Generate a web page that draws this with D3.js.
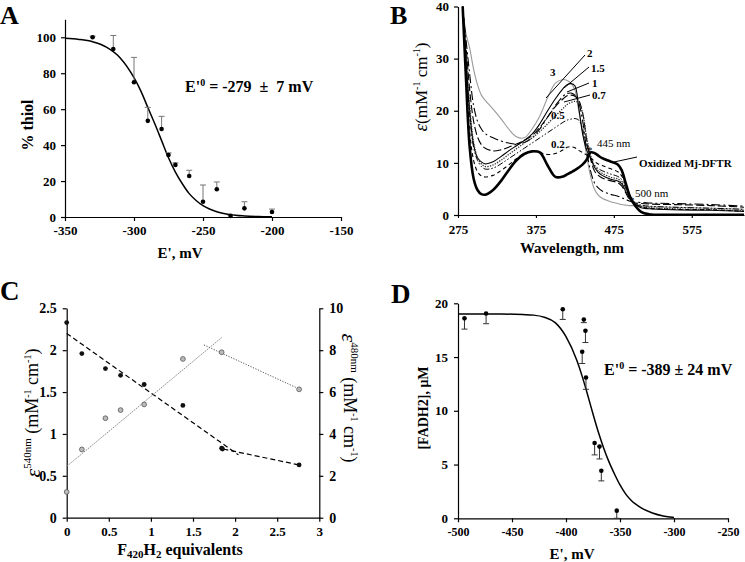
<!DOCTYPE html>
<html><head><meta charset="utf-8">
<script src="https://cdn.jsdelivr.net/npm/d3@7"></script>
<style>body{margin:0;background:#fff} text{font-family:"Liberation Serif","Times New Roman",serif;fill:#000}</style>
</head><body><svg id="c" width="745" height="562"></svg>
<script>
// ---------- Panel A ----------
const aE = [-330,-315,-300,-290,-280,-275,-270,-260,-250,-240,-230,-220,-200];
const aThiol = [100,93.5,75,53.5,49,34.5,29,22.8,8.5,15.4,0.6,4.8,2.8];
const aErr = [0.6,7.5,13.8,7.5,7,1.2,1.1,3.2,9.3,4.1,0.3,3.7,1.6];
const aFitE = [-350,-340,-330,-320,-310,-300,-295,-290,-285,-280,-275,-270,-265,-260,-255,-250,-240,-230,-220,-210,-200];
const aFitY = [99.4,98.8,97.5,94.5,88.5,77.5,70,61,52,42.5,33,25,18.5,13,9.2,6.3,2.9,1.3,0.6,0.25,0.1];
const aXTicks = [-350,-300,-250,-200,-150];
const aYTicks = [0,20,40,60,80,100];

// ---------- Panel B ----------
const bWl = [281,285,290,295,300,305,310,320,330,340,350,360,370,380,390,400,410,415,420,425,430,435,440,445,450,455,460,470,480,485,490,495,500,510,520,550,600,642];
const bOx  = [40,27,13,7,4.8,4.0,3.9,4.8,6.5,8.6,10.5,11.7,12.2,12.0,9.5,7.3,7.4,7.8,8.2,8.6,9.1,9.7,10.6,12.0,11.9,11.4,10.9,10.3,9.7,8.6,6.2,3.8,2.3,0.6,0.15,0.05,0.05,0.05];
const b02  = [40,28,16,10.5,8.3,7.5,7.3,7.6,8.5,9.6,10.8,11.8,12.2,12.0,11.6,11.8,12.5,13.0,13.1,12.9,12.4,12.0,11.5,11.0,10.3,9.8,9.5,8.9,8.3,7.5,5.8,3.9,2.6,1.6,1.3,1.1,1.0,0.7];
const b05  = [40,30,19,13,10.5,9.3,8.8,9.0,9.8,10.8,11.8,12.8,13.8,14.8,15.8,16.8,17.8,18.2,18.4,18.5,18.2,16.5,13.5,11.0,9.6,8.9,8.5,7.9,7.4,6.8,5.2,3.5,2.5,1.9,1.7,1.5,1.3,1.1];
const b07  = [40,31,21,14,11,9.8,9.3,9.6,10.5,11.6,12.7,13.8,14.8,16.0,17.5,19.0,20.5,21.2,21.6,21.8,21.5,19.5,15.0,11.5,9.5,8.5,8.0,7.3,6.9,6.3,4.8,3.2,2.4,1.6,1.4,1.2,1.0,0.8];
const b1   = [40,33,24,18,15,13.5,12.8,12.3,12.5,13.0,13.6,14.3,15.2,16.8,18.8,20.8,22.3,22.9,23.0,22.8,22.0,19.5,14.5,10.8,8.5,7.6,7.1,6.6,6.2,5.6,4.3,3.0,2.4,2.2,2.1,2.0,1.8,1.5];
const b15  = [40,31,20,13.5,11,10.2,9.8,10.2,11.2,12.3,13.3,14.3,15.5,17.5,20.0,22.3,24.3,25.0,25.2,24.8,20.5,15.5,12.5,11.0,9.2,8.2,7.6,6.9,6.5,6.0,4.6,3.2,2.4,1.4,1.2,1.0,0.9,0.7];
const b2   = [40,34,27,21,18,16.5,15.6,14.8,14.2,13.8,13.6,13.9,14.8,16.5,18.8,21.0,22.8,23.3,23.4,23.0,21.5,18.0,12.5,8.5,6.2,5.2,4.6,4.0,3.6,3.3,3.0,2.7,2.5,2.4,2.3,2.2,2.0,1.7];
const b3   = [40,35,32,28,25,23,22,20.3,18.5,16.5,15.0,14.8,16.5,19.0,22.5,25.3,26.0,25.8,25.3,24.0,20.0,16.0,11.5,7.5,5.0,3.8,3.2,2.6,2.2,2.0,1.9,1.8,1.8,1.7,1.6,1.5,1.3,1.1];
const bXTicks = [275,375,475,575];
const bYTicks = [0,10,20,30,40];

// ---------- Panel C ----------
const cEq540 = [0,0.18,0.46,0.64,0.92,1.38,1.84,1.85,2.76];
const cE540  = [2.33,1.96,1.78,1.70,1.59,1.34,0.83,0.82,0.63];
const cEq480 = [0,0.18,0.46,0.64,0.92,1.38,1.84,2.76];
const cE480  = [1.23,3.26,4.75,5.14,5.41,7.58,7.9,6.13];
const cFit540a = [[0,2.2],[2.04,0.75]];
const cFit540b = [[1.86,0.82],[2.76,0.63]];
const cFit480a = [[0,2.45],[1.84,8.6]];
const cFit480b = [[1.63,8.25],[2.76,6.15]];
const cXTicks = [0,0.5,1,1.5,2,2.5,3];
const cYTicks = [0,0.5,1,1.5,2,2.5];
const cY2Ticks = [0,2,4,6,8,10];

// ---------- Panel D ----------
const dE = [-494,-474,-403,-383.5,-382,-385,-381.5,-373.5,-369,-367.3,-353];
const dFad = [18.6,19.05,19.45,18.5,17.45,15.5,13.1,7.0,6.67,4.43,0.71];
const dErr = [1.0,0.95,0.95,0.3,1.1,1.1,1.1,1.1,1.15,0.95,0.71];
const dFitE = [-500,-460,-440,-430,-420,-410,-400,-390,-385,-380,-375,-370,-365,-360,-355,-350,-345,-340,-330,-320,-310,-300];
const dFitY = [19.0,19.0,18.95,18.9,18.7,18.2,16.9,14.7,13.2,11.5,9.7,8.0,6.5,5.2,4.1,3.1,2.3,1.7,0.95,0.5,0.22,0.08];
const dXTicks = [-500,-450,-400,-350,-300,-250];
const dYTicks = [0,5,10,15,20];

const svg = d3.select('#c');
const FONT = 'Liberation Serif';
const NB = '\u00a0';
function styleAxis(g, size=13){
  g.select('.domain').attr('stroke','#000').attr('stroke-width',1.2);
  g.selectAll('.tick line').attr('stroke','#000').attr('stroke-width',1.2);
  g.selectAll('.tick text').attr('font-family',FONT).attr('font-weight','bold').attr('font-size',size).attr('fill','#000');
}
function label(t,x,y,size){
  svg.append('text').attr('x',x).attr('y',y).attr('font-size',size).attr('font-weight','bold').text(t);
}
const fmt = d => String(d);

// ===== Panel A =====
{
  const x = d3.scaleLinear([-350,-150],[65,341]);
  const y = d3.scaleLinear([0,110],[217,19.3]);
  svg.append('g').attr('transform','translate(0,217)').call(d3.axisBottom(x).tickValues(aXTicks).tickFormat(fmt).tickSize(4).tickSizeOuter(0).tickPadding(5)).call(styleAxis);
  svg.append('g').attr('transform','translate(65,0)').call(d3.axisLeft(y).tickValues(aYTicks).tickFormat(fmt).tickSize(4).tickSizeOuter(0).tickPadding(5)).call(styleAxis);
  const line = d3.line().x((d,i)=>x(aFitE[i])).y((d,i)=>y(aFitY[i])).curve(d3.curveMonotoneX);
  svg.append('path').datum(aFitE).attr('d',line).attr('fill','none').attr('stroke','#000').attr('stroke-width',1.5);
  const g = svg.append('g');
  aE.forEach((e,i)=>{
    const top = y(aThiol[i]+aErr[i]);
    g.append('line').attr('x1',x(e)).attr('x2',x(e)).attr('y1',y(aThiol[i])).attr('y2',top).attr('stroke','#777').attr('stroke-width',1);
    g.append('line').attr('x1',x(e)-3).attr('x2',x(e)+3).attr('y1',top).attr('y2',top).attr('stroke','#777').attr('stroke-width',1);
    g.append('circle').attr('cx',x(e)).attr('cy',y(aThiol[i])).attr('r',2.3).attr('fill','#000');
  });
  label('A',0,24,26);
  svg.append('text').attr('transform','translate(33,125) rotate(-90)').attr('text-anchor','middle').attr('font-size',16).attr('font-weight','bold').text('% thiol');
  svg.append('text').attr('x',180).attr('y',258).attr('text-anchor','middle').attr('font-size',15).attr('font-weight','bold').text('E\', mV');
  const t = svg.append('text').attr('x',185).attr('y',92).attr('font-size',16).attr('font-weight','bold');
  t.append('tspan').text('E\'');
  t.append('tspan').attr('font-size',10).attr('dy',-6).text('0');
  t.append('tspan').attr('dy',6).text(NB+'=' + NB + '-279' + NB+NB + '\u00b1' + NB+NB + '7' + NB + 'mV');
}

// ===== Panel B =====
{
  const x = d3.scaleLinear([275,642],[458,744]);
  const y = d3.scaleLinear([0,40],[215,6.5]);
  svg.append('g').attr('transform','translate(0,215)').call(d3.axisBottom(x).tickValues(bXTicks).tickFormat(fmt).tickSize(3).tickSizeOuter(0).tickPadding(7)).call(styleAxis);
  svg.append('g').attr('transform','translate(458,0)').call(d3.axisLeft(y).tickValues(bYTicks).tickFormat(fmt).tickSize(4).tickSizeOuter(0).tickPadding(5)).call(styleAxis);
  const series = [
    {v:b3, stroke:'#9a9a9a', w:1.1, dash:null},
    {v:b2, stroke:'#000', w:1.1, dash:'9,3,2,3'},
    {v:b1, stroke:'#000', w:1.1, dash:'8,3'},
    {v:b15, stroke:'#000', w:1.1, dash:null},
    {v:b07, stroke:'#333', w:1.3, dash:'1.3,1.3'},
    {v:b05, stroke:'#000', w:1, dash:'6,2,1.5,2,1.5,2'},
    {v:b02, stroke:'#000', w:1.1, dash:'4,3'},
    {v:bOx, stroke:'#000', w:2.6, dash:null}
  ];
  series.forEach(s=>{
    const line = d3.line().x((d,i)=>x(bWl[i])).y(d=>y(d)).curve(d3.curveCatmullRom.alpha(0.5));
    svg.append('path').datum(s.v).attr('d',line).attr('fill','none').attr('stroke',s.stroke).attr('stroke-width',s.w).attr('stroke-dasharray',s.dash);
  });
  const lab = (t,x0,y0,bold=true,size=11)=>svg.append('text').attr('x',x0).attr('y',y0).attr('font-size',size).attr('font-weight',bold?'bold':'normal').text(t);
  const ld = (x1,y1,x2,y2)=>svg.append('line').attr('x1',x1).attr('y1',y1).attr('x2',x2).attr('y2',y2).attr('stroke','#000').attr('stroke-width',1);
  lab('3',550,76); lab('2',587,57); lab('1.5',591,72); lab('1',592,87); lab('0.7',592,99); lab('0.5',551,119); lab('0.2',551,148);
  ld(585,55,546,98); ld(589,67,564,88); ld(589,83,567,92); ld(590,95,564,102);
  lab('445 nm',597,147,false,11); lab('*',587,154,false,11);
  lab('500 nm',635,197,false,11); lab('*',629,204,false,11);
  lab('Oxidized Mj-DFTR',639,167,true,11);
  ld(637,157,614,162);
  label('B',390,24,26);
  const t = svg.append('text').attr('transform','translate(427,87) rotate(-90)').attr('text-anchor','middle').attr('font-size',17);
  t.append('tspan').attr('font-style','italic').attr('font-size',19).text('\u03b5');
  t.append('tspan').text('(mM');
  t.append('tspan').attr('font-size',10).attr('dy',-7).text('-1');
  t.append('tspan').attr('dy',7).text(NB+'cm');
  t.append('tspan').attr('font-size',10).attr('dy',-7).text('-1');
  t.append('tspan').attr('dy',7).text(')');
  svg.append('text').attr('x',572).attr('y',253).attr('text-anchor','middle').attr('font-size',15).attr('font-weight','bold').text('Wavelength, nm');
}

// ===== Panel C =====
{
  const x = d3.scaleLinear([0,3],[66.7,319.3]);
  const y = d3.scaleLinear([0,2.5],[517.7,308.3]);
  const y2 = d3.scaleLinear([0,10],[517.7,308.3]);
  svg.append('g').attr('transform','translate(0,517.7)').call(d3.axisBottom(x).tickValues(cXTicks).tickFormat(fmt).tickSize(4).tickSizeOuter(0).tickPadding(5)).call(styleAxis);
  svg.append('g').attr('transform','translate(66.7,0)').call(d3.axisLeft(y).tickValues(cYTicks).tickFormat(fmt).tickSize(4).tickSizeOuter(0).tickPadding(6)).call(g=>styleAxis(g,14));
  svg.append('g').attr('transform','translate(319.3,0)').call(d3.axisRight(y2).tickValues(cY2Ticks).tickFormat(fmt).tickSize(4).tickSizeOuter(0).tickPadding(6)).call(g=>styleAxis(g,14));
  const l1 = d3.line().x(d=>x(d[0])).y(d=>y(d[1]));
  const l2 = d3.line().x(d=>x(d[0])).y(d=>y2(d[1]));
  svg.append('path').attr('d',l1(cFit540a)).attr('stroke','#000').attr('stroke-width',1.2).attr('stroke-dasharray','5,3').attr('fill','none');
  svg.append('path').attr('d',l1(cFit540b)).attr('stroke','#000').attr('stroke-width',1.2).attr('stroke-dasharray','5,3').attr('fill','none');
  svg.append('path').attr('d',l2(cFit480a)).attr('stroke','#888').attr('stroke-width',1).attr('stroke-dasharray','1.5,1').attr('fill','none');
  svg.append('path').attr('d',l2(cFit480b)).attr('stroke','#555').attr('stroke-width',1).attr('stroke-dasharray','1.2,1.5').attr('fill','none');
  cEq480.forEach((e,i)=>svg.append('circle').attr('cx',x(e)).attr('cy',y2(cE480[i])).attr('r',2.4).attr('fill','#bbb').attr('stroke','#555').attr('stroke-width',0.8));
  cEq540.forEach((e,i)=>svg.append('circle').attr('cx',x(e)).attr('cy',y(cE540[i])).attr('r',2.4).attr('fill','#111'));
  label('C',0,300,27);
  const mk = tr => svg.append('text').attr('transform',tr).attr('text-anchor','middle').attr('font-size',18);
  const fill = t => {
    t.append('tspan').attr('dy',7).text(NB+'(mM');
    t.append('tspan').attr('font-size',10).attr('dy',-7).text('-1');
    t.append('tspan').attr('dy',7).text(NB+'cm');
    t.append('tspan').attr('font-size',10).attr('dy',-7).text('-1');
    t.append('tspan').attr('dy',7).text(')');
  };
  const tl = mk('translate(40,413) rotate(-90)');
  tl.append('tspan').attr('font-style','italic').attr('font-size',22).text('\u03b5');
  tl.append('tspan').attr('font-size',11).attr('dy',-9).text('540nm');
  tl.append('tspan').attr('dy',2).text('');
  fill(tl);
  const tr = mk('translate(342,398) rotate(90)');
  tr.append('tspan').attr('font-style','italic').attr('font-size',22).text('\u03b5');
  tr.append('tspan').attr('font-size',11).attr('dy',-9).text('480nm');
  tr.append('tspan').attr('dy',2).text('');
  fill(tr);
  const tx = svg.append('text').attr('x',180).attr('y',555).attr('text-anchor','middle').attr('font-size',16).attr('font-weight','bold');
  tx.append('tspan').text('F');
  tx.append('tspan').attr('font-size',11).attr('dy',3).text('420');
  tx.append('tspan').attr('dy',-3).text('H');
  tx.append('tspan').attr('font-size',11).attr('dy',3).text('2');
  tx.append('tspan').attr('dy',-3).text(' equivalents');
}

// ===== Panel D =====
{
  const x = d3.scaleLinear([-500,-250],[458,728]);
  const y = d3.scaleLinear([0,20],[518.3,303.3]);
  svg.append('g').attr('transform','translate(0,518.3)').call(d3.axisBottom(x).tickValues(dXTicks).tickFormat(fmt).tickSize(4).tickSizeOuter(0).tickPadding(5)).call(g=>styleAxis(g,12));
  svg.append('g').attr('transform','translate(458,0)').call(d3.axisLeft(y).tickValues(dYTicks).tickFormat(fmt).tickSize(4).tickSizeOuter(0).tickPadding(6)).call(g=>styleAxis(g,13));
  const line = d3.line().x((d,i)=>x(dFitE[i])).y((d,i)=>y(dFitY[i])).curve(d3.curveMonotoneX);
  svg.append('path').datum(dFitE).attr('d',line).attr('fill','none').attr('stroke','#000').attr('stroke-width',1.5);
  dE.forEach((e,i)=>{
    const bot = y(dFad[i]-dErr[i]);
    svg.append('line').attr('x1',x(e)).attr('x2',x(e)).attr('y1',y(dFad[i])).attr('y2',bot).attr('stroke','#333').attr('stroke-width',1);
    svg.append('line').attr('x1',x(e)-3).attr('x2',x(e)+3).attr('y1',bot).attr('y2',bot).attr('stroke','#333').attr('stroke-width',1);
    svg.append('circle').attr('cx',x(e)).attr('cy',y(dFad[i])).attr('r',2.3).attr('fill','#000');
  });
  label('D',391,303,27);
  svg.append('text').attr('transform','translate(428,408) rotate(-90)').attr('text-anchor','middle').attr('font-size',14).attr('font-weight','bold').text('[FADH2], \u03bcM');
  svg.append('text').attr('x',572).attr('y',559).attr('text-anchor','middle').attr('font-size',15).attr('font-weight','bold').text('E\', mV');
  const t = svg.append('text').attr('x',604).attr('y',375).attr('font-size',16).attr('font-weight','bold');
  t.append('tspan').text('E\'');
  t.append('tspan').attr('font-size',10).attr('dy',-6).text('0');
  t.append('tspan').attr('dy',6).text(NB+'= -389 \u00b1 24 mV');
}
</script></body></html>
